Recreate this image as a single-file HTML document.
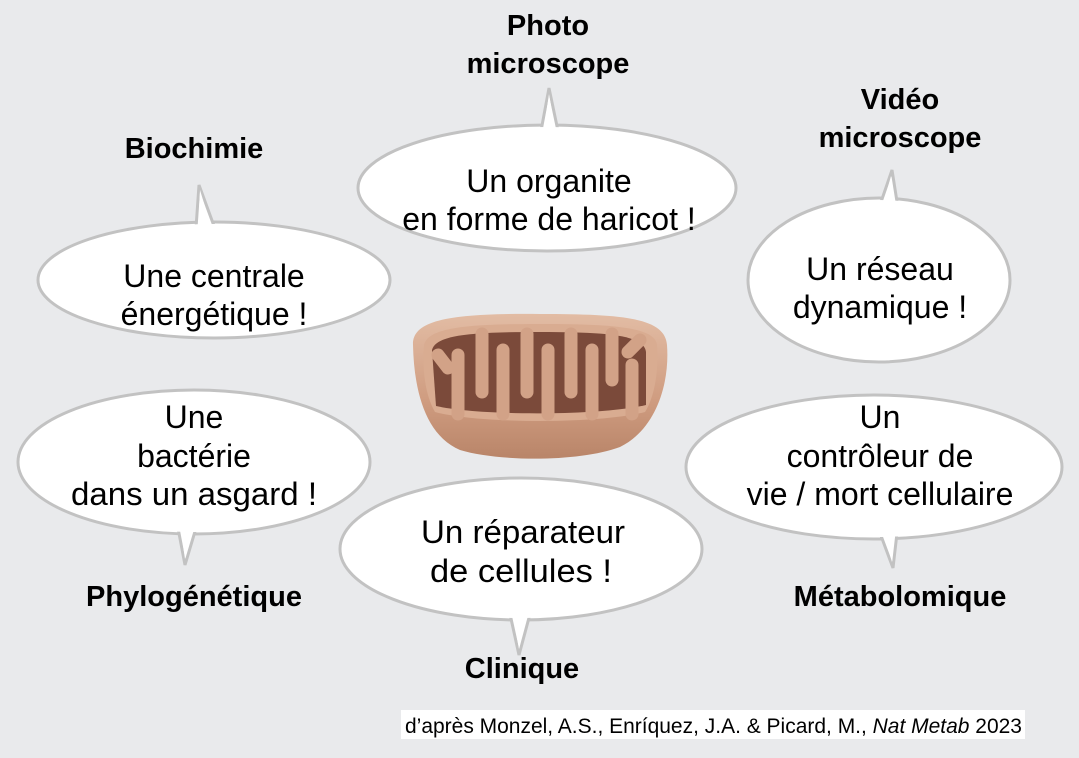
<!DOCTYPE html>
<html><head><meta charset="utf-8"><style>
html,body{margin:0;padding:0;background:#e9eaec;}
svg{display:block;font-family:"Liberation Sans",Arial,sans-serif;}
.b{font-size:32px;fill:#000;text-anchor:middle;}
.l{font-size:29px;font-weight:bold;fill:#000;text-anchor:middle;}
</style></head><body>
<svg width="1079" height="758" viewBox="0 0 1079 758" xmlns="http://www.w3.org/2000/svg">
<rect width="1079" height="758" fill="#e9eaec"/>
<g stroke="#c2c2c2" stroke-width="3" fill="#fff">
  <ellipse cx="214" cy="280" rx="176" ry="58"/>
  <polygon points="196,228 199,185 214,226"/>
  <ellipse cx="547" cy="188" rx="189" ry="63"/>
  <polygon points="541,131 549,88 558,131"/>
  <ellipse cx="879" cy="280" rx="131" ry="82"/>
  <polygon points="880,205 892,170 898,208"/>
  <ellipse cx="194" cy="462" rx="176" ry="72"/>
  <polygon points="178,528 185,565 196,528"/>
  <ellipse cx="521" cy="549" rx="181" ry="71"/>
  <polygon points="510,614 519,655 530,614"/>
  <ellipse cx="874" cy="467" rx="188" ry="72"/>
  <polygon points="880,533 893,568 897,533"/>
</g>
<g fill="#fff">
  <ellipse cx="214" cy="280" rx="174" ry="56"/>
  <polygon points="198,232 200,190 212,230"/>
  <ellipse cx="547" cy="188" rx="187" ry="61"/>
  <polygon points="543,135 549,94 556,135"/>
  <ellipse cx="879" cy="280" rx="129" ry="80"/>
  <polygon points="882,209 891,176 896,211"/>
  <ellipse cx="194" cy="462" rx="174" ry="70"/>
  <polygon points="180,524 185,559 194,524"/>
  <ellipse cx="521" cy="549" rx="179" ry="69"/>
  <polygon points="512,610 519,649 528,610"/>
  <ellipse cx="874" cy="467" rx="186" ry="70"/>
  <polygon points="882,529 892,562 895,529"/>
</g>
<defs>
  <linearGradient id="g1" x1="0" y1="0" x2="0" y2="1">
    <stop offset="0" stop-color="#e2bca4"/><stop offset="0.6" stop-color="#cf9c80"/><stop offset="1" stop-color="#b98569"/>
  </linearGradient>
</defs>
<path d="M413,345 C412,320 450,313 540,314 C625,314 665,318 667,345 C670,385 655,430 620,447 C580,462 500,462 460,450 C425,435 414,390 413,345 Z" fill="url(#g1)"/>
<path d="M424,345 C428,327 470,324 540,324 C612,324 655,327 657,345 C659,372 654,398 645,412 C600,424 480,424 435,412 C425,395 422,368 424,345 Z" fill="#d9ac91"/>
<path d="M432,350 C436,335 470,332 540,332 C608,332 644,335 646,352 L646,405 C600,416 480,416 436,406 Z" fill="#7b4a3a"/>
<g fill="none" stroke="#d2a287" stroke-width="13" stroke-linecap="round">
  <path d="M482,334 L482,392"/>
  <path d="M527,334 L527,392"/>
  <path d="M571,334 L571,392"/>
  <path d="M612,334 L612,380"/>
  <path d="M458,414 L458,355"/>
  <path d="M503,414 L503,350"/>
  <path d="M548,414 L548,350"/>
  <path d="M592,414 L592,350"/>
  <path d="M632,414 L632,365"/>
  <path d="M438,355 L448,368"/>
  <path d="M640,340 L628,352"/>
</g>
<text class="b" x="214" y="287">Une centrale</text>
<text class="b" x="214" y="325">énergétique !</text>
<text class="b" x="549" y="192">Un organite</text>
<text class="b" x="549" y="230">en forme de haricot !</text>
<text class="b" x="880" y="280">Un réseau</text>
<text class="b" x="880" y="318">dynamique !</text>
<text class="b" x="194" y="428">Une</text>
<text class="b" x="194" y="467">bactérie</text>
<text class="b" x="194" y="505" textLength="246" lengthAdjust="spacingAndGlyphs">dans un asgard !</text>
<text class="b" x="523" y="543" textLength="204" lengthAdjust="spacingAndGlyphs">Un réparateur</text>
<text class="b" x="521" y="582" textLength="182" lengthAdjust="spacingAndGlyphs">de cellules  !</text>
<text class="b" x="880" y="428">Un</text>
<text class="b" x="880" y="467">contrôleur de</text>
<text class="b" x="880" y="505">vie / mort cellulaire</text>
<text class="l" x="548" y="35">Photo</text>
<text class="l" x="548" y="73">microscope</text>
<text class="l" x="194" y="158">Biochimie</text>
<text class="l" x="900" y="109">Vidéo</text>
<text class="l" x="900" y="147">microscope</text>
<text class="l" x="194" y="606">Phylogénétique</text>
<text class="l" x="522" y="678">Clinique</text>
<text class="l" x="900" y="606">Métabolomique</text>
<rect x="401" y="710" width="624" height="29" fill="#fff"/>
<text x="405" y="733" font-size="21" fill="#000" textLength="617" lengthAdjust="spacingAndGlyphs">d’après Monzel, A.S., Enríquez, J.A. &amp; Picard, M., <tspan font-style="italic">Nat Metab</tspan> 2023</text>
</svg>
</body></html>
